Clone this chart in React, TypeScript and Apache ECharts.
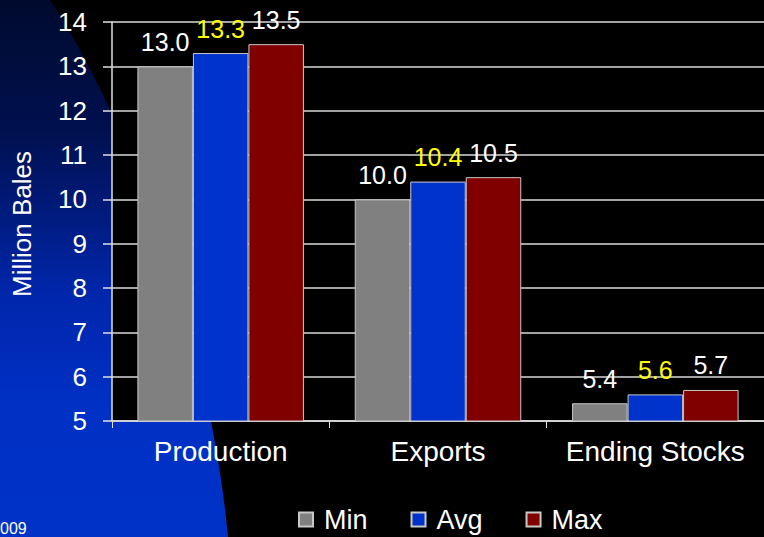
import React, { useEffect, useRef } from "react";
import * as echarts from "echarts";

const categories = ["Production", "Exports", "Ending Stocks"];
const seriesNames = ["Min", "Avg", "Max"];
const minValues = [13.0, 10.0, 5.4];
const avgValues = [13.3, 10.4, 5.6];
const maxValues = [13.5, 10.5, 5.7];
const yMin = 5;
const yMax = 14;
const yInterval = 1;
const footnote = "009";
const yTitle = "Million Bales";

const colors = ["#808080", "#0033cc", "#800000"];
const labelColors = ["#ffffff", "#ffff00", "#ffffff"];

let registered = false;

export default function App() {
  const ref = useRef<HTMLDivElement>(null);
  useEffect(() => {
    document.body.style.margin = "0";
    if (!registered) {
      echarts.graphic.registerShape(
        "blueBg",
        echarts.graphic.extendPath(
          "M0,0 L50,0 C110,90 205,300 228,537 L0,537 Z",
          {}
        )
      );
      registered = true;
    }
    const chart = echarts.init(ref.current!, null, { renderer: "svg" });
    const values = [minValues, avgValues, maxValues];
    const font = "Liberation Sans, Arial, sans-serif";
    chart.setOption({
      animation: false,
      backgroundColor: "#000",
      textStyle: { fontFamily: font },
      graphic: [
        {
          type: "blueBg",
          x: 0,
          y: 0,
          z: -10,
          silent: true,
          style: {
            fill: new echarts.graphic.LinearGradient(0, 0, 0, 1, [
              { offset: 0, color: "#000a2e" },
              { offset: 0.25, color: "#001050" },
              { offset: 0.55, color: "#0026ac" },
              { offset: 0.75, color: "#0030c4" },
              { offset: 1, color: "#0032c8" },
            ]),
          },
        },
        {
          type: "text",
          x: 22,
          y: 224,
          rotation: Math.PI / 2,
          style: {
            text: yTitle,
            fill: "#fff",
            font: `26px ${font}`,
            align: "center",
            verticalAlign: "middle",
          },
        },
        {
          type: "text",
          x: 0,
          y: 528,
          style: {
            text: footnote,
            fill: "#fff",
            font: `16px ${font}`,
            align: "left",
            verticalAlign: "middle",
          },
        },
      ],
      grid: {
        left: 112,
        top: 22,
        width: 654,
        height: 399,
        show: true,
        backgroundColor: "#000",
        borderWidth: 0,
      },
      legend: {
        left: 293,
        top: 501,
        itemWidth: 14,
        itemHeight: 14,
        itemGap: 43,
        icon: "rect",
        data: seriesNames,
        textStyle: {
          color: "#fff",
          fontSize: 27,
          fontFamily: font,
          padding: [0, 0, 0, 6],
        },
      },
      xAxis: {
        type: "category",
        data: categories,
        axisLine: { lineStyle: { color: "#e0e0e0", width: 1.5 } },
        axisTick: { show: true, length: 7, lineStyle: { color: "#e0e0e0" } },
        axisLabel: {
          color: "#fff",
          fontSize: 28,
          fontFamily: font,
          margin: 16,
          interval: 0,
        },
        splitLine: { show: false },
      },
      yAxis: {
        type: "value",
        min: yMin,
        max: yMax,
        interval: yInterval,
        axisLine: { show: true, lineStyle: { color: "#e0e0e0", width: 1.5 } },
        axisTick: { show: true, length: 9, lineStyle: { color: "#e0e0e0", width: 1.5 } },
        axisLabel: { color: "#fff", fontSize: 26, fontFamily: font, margin: 25 },
        splitLine: { show: true, lineStyle: { color: "#d8d8d8", width: 1.5 } },
      },
      series: seriesNames.map((name, i) => ({
        name,
        type: "bar",
        data: values[i],
        barWidth: 55.5,
        barGap: "0%",
        itemStyle: { color: colors[i], borderColor: "#c8c8c8", borderWidth: 1 },
        label: {
          show: true,
          position: "top",
          distance: 12,
          color: labelColors[i],
          fontSize: 25,
          fontFamily: font,
          formatter: (p: any) => Number(p.value).toFixed(1),
        },
      })),
    });
    return () => chart.dispose();
  }, []);
  return (
    <div
      ref={ref}
      style={{ position: "absolute", left: 0, top: 0, width: 764, height: 537 }}
    />
  );
}
